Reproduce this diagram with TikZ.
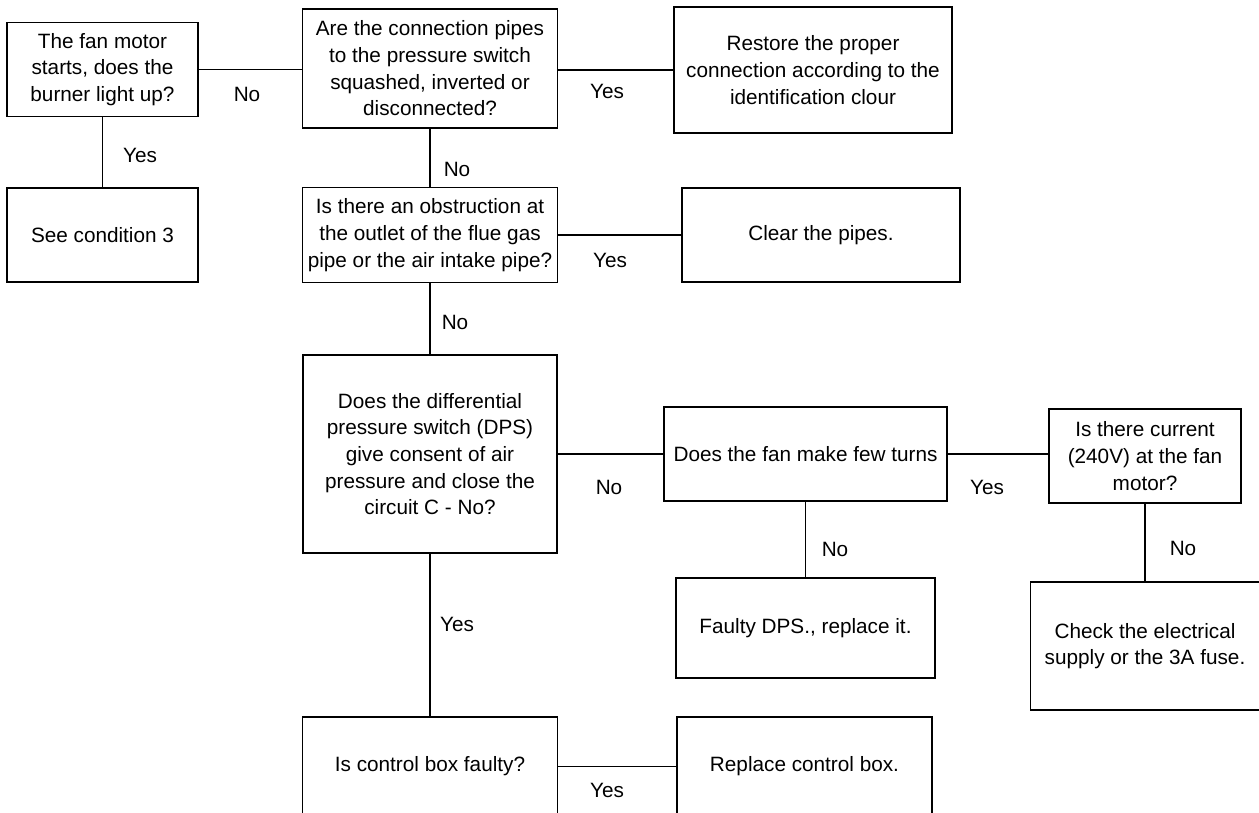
\documentclass[tikz,border=0pt]{standalone}
\usepackage{fontspec}
\setmainfont{Liberation Sans}
\usepackage{tikz}

\begin{document}
\begin{tikzpicture}[
        box/.style = {draw, line width = 0.8pt, align = center, inner xsep = 1pt},
        link/.style = {line width = 0.8pt},
        lbl/.style = {inner sep = 0pt},
        font = \fontsize{11.8}{15.2}\selectfont]
        \useasboundingbox (0, 0) rectangle (25.18, -16.24);

        \node [box, minimum width = 3.82cm, minimum height = 1.88cm] (start) at (2.05, -1.39)
            {The fan motor\\starts, does the\\burner light up?};
        \node [box, minimum width = 5.10cm, minimum height = 2.38cm] (pipes) at (8.60, -1.37)
            {Are the connection pipes\\to the pressure switch\\squashed, inverted or\\disconnected?};
        \node [box, minimum width = 5.56cm, minimum height = 2.52cm] (restore) at (16.26, -1.40)
            {Restore the proper\\connection according to the\\identification clour};
        \node [box, minimum width = 3.82cm, minimum height = 1.88cm] (cond3) at (2.05, -4.70)
            {See condition 3};
        \node [box, minimum width = 5.10cm, minimum height = 1.90cm] (obstruct) at (8.60, -4.70)
            {Is there an obstruction at\\the outlet of the flue gas\\pipe or the air intake pipe?};
        \node [box, minimum width = 5.56cm, minimum height = 1.88cm] (clear) at (16.42, -4.70)
            {Clear the pipes.};
        \node [box, minimum width = 5.08cm, minimum height = 3.96cm] (dps) at (8.60, -9.08)
            {Does the differential\\pressure switch (DPS)\\give consent of air\\pressure and close the\\circuit C - No?};
        \node [box, minimum width = 5.66cm, minimum height = 1.88cm] (turns) at (16.11, -9.08)
            {Does the fan make few turns};
        \node [box, minimum width = 3.84cm, minimum height = 1.88cm] (current) at (22.90, -9.12)
            {Is there current\\(240V) at the fan\\motor?};
        \node [box, minimum width = 5.18cm, minimum height = 2.00cm] (faultydps) at (16.11, -12.56)
            {Faulty DPS., replace it.};
        \node [box, minimum width = 4.58cm, minimum height = 2.56cm] (supply) at (22.90, -12.92)
            {Check the electrical\\supply or the 3A fuse.};
        \node [box, minimum width = 5.10cm, minimum height = 1.98cm] (ctrlbox) at (8.60, -15.33)
            {Is control box faulty?};
        \node [box, minimum width = 5.10cm, minimum height = 1.98cm] (replace) at (16.09, -15.33)
            {Replace control box.};

        \draw [link] (start.east) -- (start.east -| pipes.west);
        \draw [link] (pipes.east |- restore.west) -- (restore.west);
        \draw [link] (start.south) -- (cond3.north);
        \draw [link] (pipes.south) -- (obstruct.north);
        \draw [link] (obstruct.east) -- (clear.west);
        \draw [link] (obstruct.south) -- (dps.north);
        \draw [link] (dps.east) -- (turns.west);
        \draw [link] (turns.east) -- (turns.east -| current.west);
        \draw [link] (turns.south) -- (faultydps.north);
        \draw [link] (current.south) -- (supply.north);
        \draw [link] (dps.south) -- (ctrlbox.north);
        \draw [link] (ctrlbox.east) -- (replace.west);

        \node [lbl] (nostart) at (4.94, -1.88) {No};
        \node [lbl] (yespipes) at (12.14, -1.82) {Yes};
        \node [lbl] (yesstart) at (2.80, -3.10) {Yes};
        \node [lbl] (nopipes) at (9.14, -3.38) {No};
        \node [lbl] (yesobstruct) at (12.20, -5.20) {Yes};
        \node [lbl] (noobstruct) at (9.10, -6.44) {No};
        \node [lbl] (nodps) at (12.18, -9.74) {No};
        \node [lbl] (yesturns) at (19.74, -9.74) {Yes};
        \node [lbl] (noturns) at (16.70, -10.98) {No};
        \node [lbl] (nocurrent) at (23.66, -10.96) {No};
        \node [lbl] (yesdps) at (9.14, -12.48) {Yes};
        \node [lbl] (yesctrlbox) at (12.14, -15.80) {Yes};
\end{tikzpicture}
\end{document}
